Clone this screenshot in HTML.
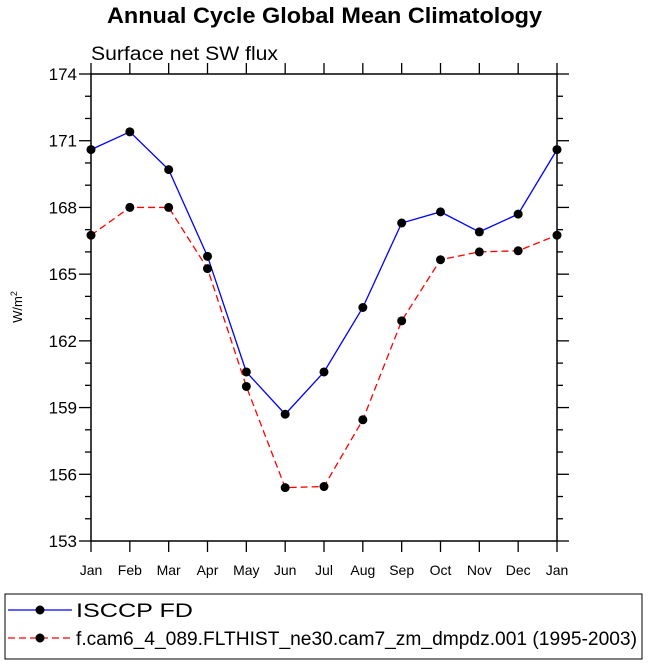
<!DOCTYPE html>
<html><head><meta charset="utf-8"><style>
body{margin:0;background:#fff;}
svg text{font-family:"Liberation Sans",Helvetica,Arial,sans-serif;}
</style></head><body>
<svg id="c" width="649" height="663" xmlns="http://www.w3.org/2000/svg">
<text x="107" y="23" font-size="22" font-weight="bold" textLength="435" lengthAdjust="spacingAndGlyphs">Annual Cycle Global Mean Climatology</text>
<text x="91" y="60" font-size="19" textLength="187" lengthAdjust="spacingAndGlyphs">Surface net SW flux</text>
<text transform="translate(22,307) rotate(-90)" text-anchor="middle" font-size="13">W/m<tspan font-size="9" dy="-5">2</tspan></text>
<g id="axes"></g>
<g id="series"></g>
<rect x="5" y="594" width="637" height="65" fill="none" stroke="#000" stroke-width="1"/>
<g>
<line x1="8" y1="610" x2="72" y2="610" stroke="#0000ff" stroke-width="1.3"/>
<circle cx="40" cy="610" r="4.5" fill="#000"/>
<text x="76" y="617" font-size="19" textLength="117" lengthAdjust="spacingAndGlyphs">ISCCP FD</text>
</g>
<g>
<line x1="8" y1="638" x2="72" y2="638" stroke="#ff0000" stroke-width="1.3" stroke-dasharray="7,4"/>
<circle cx="40" cy="638" r="4.5" fill="#000"/>
<text x="76" y="645" font-size="19" textLength="561" lengthAdjust="spacingAndGlyphs">f.cam6_4_089.FLTHIST_ne30.cam7_zm_dmpdz.001 (1995-2003)</text>
</g>
</svg>
<script>
const months=["Jan","Feb","Mar","Apr","May","Jun","Jul","Aug","Sep","Oct","Nov","Dec","Jan"];
const isccp=[170.6,171.4,169.7,165.8,160.6,158.7,160.6,163.5,167.3,167.8,166.9,167.7,170.6];
const cam=[166.75,168.0,168.0,165.25,159.95,155.4,155.45,158.45,162.9,165.65,166.0,166.05,166.75];
const yTicks=[153,156,159,162,165,168,171,174];
const NS="http://www.w3.org/2000/svg";
const L=91,R=557,T=74,B=541,yMin=153,yMax=174;
const xs=i=>L+(R-L)*i/(months.length-1);
const ys=v=>B-(v-yMin)/(yMax-yMin)*(B-T);
function mk(tag,at,par){const e=document.createElementNS(NS,tag);for(const k in at)e.setAttribute(k,at[k]);par.appendChild(e);return e;}
const ax=document.getElementById('axes');
let box=mk('rect',{x:L,y:T,width:R-L,height:B-T,fill:'none',stroke:'#000','stroke-width':1.5},ax);


for(let v=yMin;v<=yMax;v++){
  const major=yTicks.includes(v);const len=major?12:6;const y=ys(v);
  let t1=mk('line',{x1:L-len,y1:y,x2:L,y2:y,stroke:'#000','stroke-width':1.3},ax);
  
  
  let t2=mk('line',{x1:R,y1:y,x2:R+len,y2:y,stroke:'#000','stroke-width':1.3},ax);
  
  
  if(major){let tx=mk('text',{x:L-14,y:y+6,'text-anchor':'end','font-size':17},ax);tx.textContent=v;
  
  }
}
months.forEach((m,i)=>{
  const x=xs(i);
  let t=mk('line',{x1:x,y1:B,x2:x,y2:B+11,stroke:'#000','stroke-width':1.3},ax);
  
  
  let t2=mk('line',{x1:x,y1:T-11,x2:x,y2:T,stroke:'#000','stroke-width':1.3},ax);
  
  
  let tx=mk('text',{x:x,y:B+34,'text-anchor':'middle','font-size':14},ax);tx.textContent=m;
  
  
});
const sg=document.getElementById('series');
function draw(vals,color,dash,name){
  const g=mk('g',{},sg);
  
  
  const pts=vals.map((v,i)=>xs(i)+','+ys(v)).join(' ');
  const at={points:pts,fill:'none',stroke:color,'stroke-width':1.3};if(dash)at['stroke-dasharray']=dash;
  mk('polyline',at,g);
  vals.forEach((v,i)=>{let c=mk('circle',{cx:xs(i),cy:ys(v),r:4.5,fill:'#000'},g);
  
  });
}
draw(isccp,'#0000ff',null,'series-isccp');
draw(cam,'#ff0000','7,4','series-cam6');
</script>
</body></html>
